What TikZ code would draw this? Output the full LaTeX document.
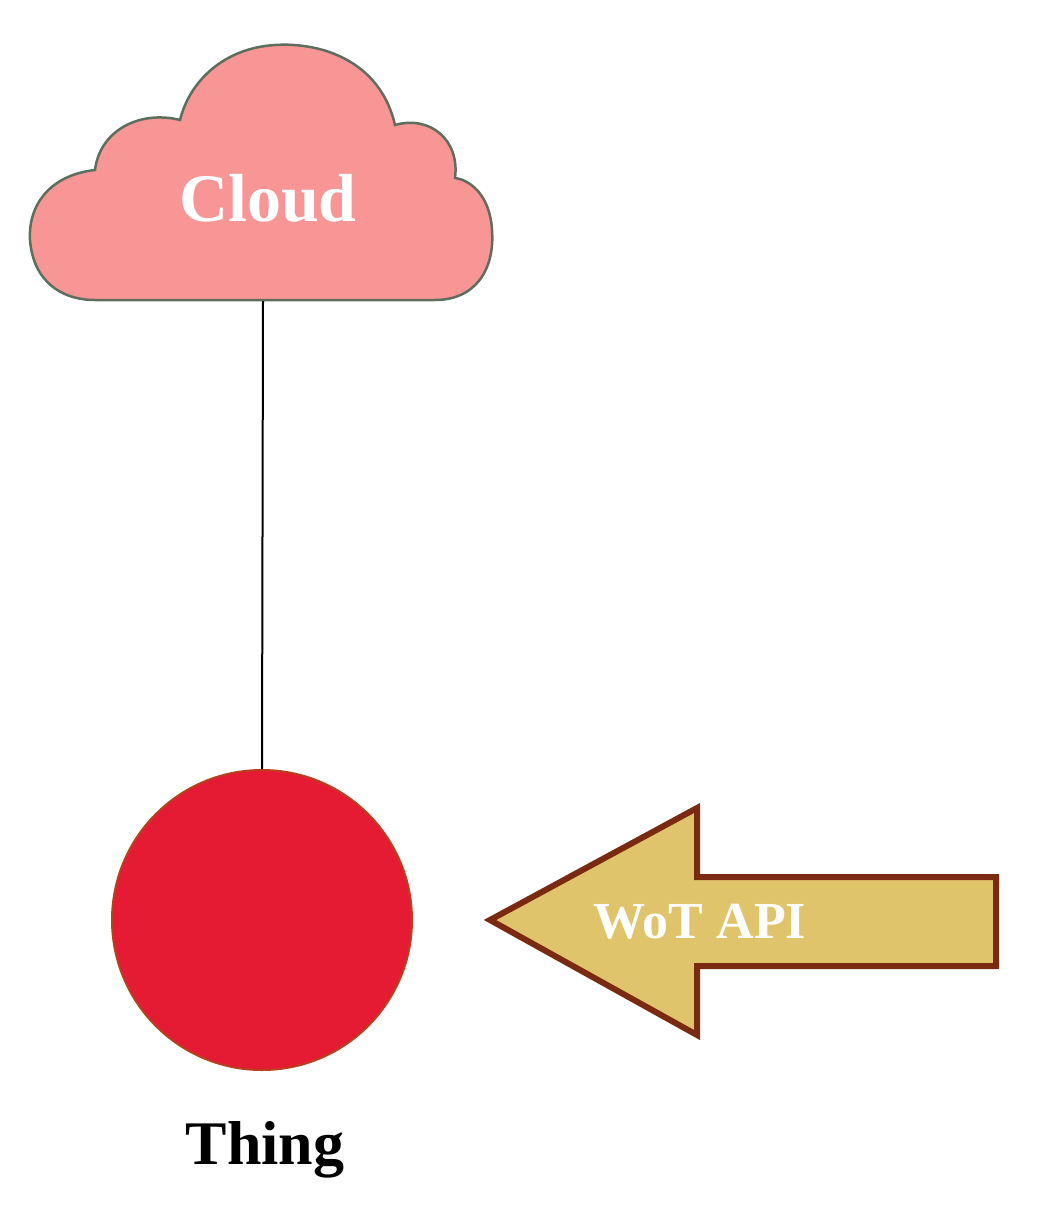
\documentclass[tikz,border=0pt]{standalone}
\usepackage{fontspec}
\setmainfont{Liberation Serif}
\definecolor{cloudfill}{HTML}{F89696}
\definecolor{cloudline}{HTML}{5E6E5E}
\definecolor{thingfill}{HTML}{E41B32}
\definecolor{thingline}{HTML}{B8401E}
\definecolor{arrfill}{HTML}{E0C46C}
\definecolor{arrline}{HTML}{7A2A10}
\begin{document}
\begin{tikzpicture}[x=1pt,y=-1pt,
  lbl/.style={font=\bfseries\fontsize{#1}{#1}\selectfont}]
\useasboundingbox (0,0) rectangle (1042,1217);
\draw[fill=cloudfill,draw=cloudline,line width=2.5pt]
 (95,300) -- (435,300)
 .. controls (475,300) and (495,270) .. (492,230)
 .. controls (490,195) and (470,180) .. (455,178)
 .. controls (460,140) and (430,115) .. (395,125)
 .. controls (380,60) and (320,42) .. (275,45)
 .. controls (225,48) and (190,80) .. (180,120)
 .. controls (140,110) and (100,130) .. (95,170)
 .. controls (50,175) and (28,205) .. (30,240)
 .. controls (33,280) and (60,300) .. (95,300) -- cycle;
\node[lbl=68,text=white] (cloud) at (268,198) {Cloud};
\coordinate (cb) at (263,301);
\node[circle,minimum size=300pt,inner sep=0,fill=thingfill,draw=thingline,line width=2pt] (thing) at (262,920) {};
\draw[line width=2pt] (cb) -- (thing.north);
\node[lbl=62] (tl) at (265,1150) {Thing};
\draw[fill=arrfill,draw=arrline,line width=6pt,line join=miter]
 (490,920) -- (697,808) -- (697,877) -- (996,877) -- (996,966) -- (697,966) -- (697,1035) -- cycle;
\node[lbl=52,text=white] (api) at (700,922) {WoT API};
\end{tikzpicture}
\end{document}
